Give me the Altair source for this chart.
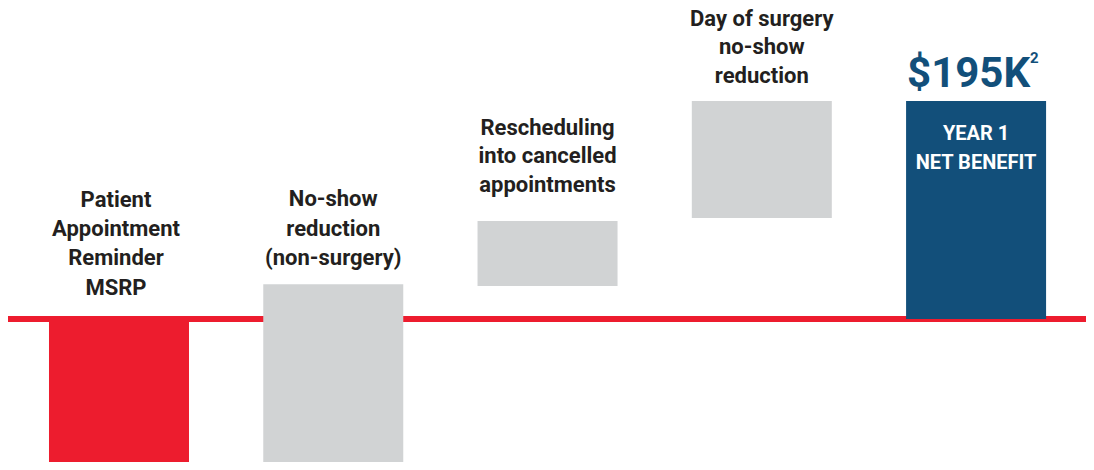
import altair as alt
import pandas as pd

# ---- data (values in $K) ----
categories = ["Patient Appointment Reminder MSRP", "No-show reduction (non-surgery)",
              "Rescheduling into cancelled appointments", "Day of surgery no-show reduction",
              "Year 1 net benefit"]
bar_low = [0, -135, 29.5, 90.3, 0]
bar_high = [-135, 31, 87.7, 195, 195]
kinds = ["cost", "benefit", "benefit", "benefit", "total"]
label_lines = [
    ["Patient", "Appointment", "Reminder", "MSRP"],
    ["No-show", "reduction", "(non-surgery)"],
    ["Rescheduling", "into cancelled", "appointments"],
    ["Day of surgery", "no-show", "reduction"],
]
total_label = "$195K"
total_note = "2"
total_inner = ["YEAR 1", "NET BENEFIT"]

# ---- styles ----
FONT = "Roboto"
RED = "#ed1c2e"
GRAY = "#d1d3d4"
BLUE = "#124f7a"
TXT = "#231f20"
W, H = 1078, 454

df = pd.DataFrame({
    "idx": list(range(len(categories))),
    "category": categories,
    "low": bar_low,
    "high": bar_high,
    "kind": kinds,
})
df["top"] = df[["low", "high"]].max(axis=1)

xs = alt.Scale(domain=[-0.518, 4.513], nice=False, zero=False, padding=0)
ys = alt.Scale(domain=[-127.9, 278.2], nice=False, zero=False, padding=0)
X = alt.X("idx:Q", scale=xs, axis=None)

base = alt.Chart(df)

rule = alt.Chart(pd.DataFrame({"y": [0]})).mark_rule(color=RED, strokeWidth=6).encode(
    y=alt.Y("y:Q", scale=ys, axis=None), x=alt.value(0), x2=alt.value(W)
)

bars = base.mark_bar(size=140, clip=True).encode(
    x=X,
    y=alt.Y("low:Q", scale=ys, axis=None),
    y2="high:Q",
    color=alt.Color("kind:N", scale=alt.Scale(domain=["cost", "benefit", "total"],
                                              range=[RED, GRAY, BLUE]), legend=None),
)

# first-line baseline offsets (px) relative to bar top
dys = [-112, -78, -86, -75]
dxs = [-3, 0, 0, 0]
lh = [29.2, 29.2, 28.4, 28.4]
layers = [rule, bars]
for i, lines in enumerate(label_lines):
    d = df[df.idx == i].copy()
    d["label"] = "\n".join(lines)
    layers.append(
        alt.Chart(d).mark_text(font=FONT, fontWeight="bold", fontSize=22, color=TXT,
                               lineBreak="\n", lineHeight=lh[i], baseline="alphabetic",
                               align="center", dy=dys[i], dx=dxs[i]).encode(
            x=X, y=alt.Y("top:Q", scale=ys), text="label:N")
    )

dt = df[df.idx == 4].copy()
dt["big"] = total_label
dt["note"] = total_note
dt["inner"] = "\n".join(total_inner)
layers.append(alt.Chart(dt).mark_text(font=FONT, fontWeight="bold", fontSize=42, color=BLUE,
                                      align="left", baseline="alphabetic", dx=-69, dy=-14).encode(
    x=X, y=alt.Y("top:Q", scale=ys), text="big:N"))
layers.append(alt.Chart(dt).mark_text(font=FONT, fontWeight="bold", fontSize=15, color=BLUE,
                                      align="left", baseline="alphabetic", dx=54, dy=-38).encode(
    x=X, y=alt.Y("top:Q", scale=ys), text="note:N"))
layers.append(alt.Chart(dt).mark_text(font=FONT, fontWeight="bold", fontSize=20, color="white",
                                      align="center", baseline="alphabetic", lineBreak="\n",
                                      lineHeight=29, dy=39).encode(
    x=X, y=alt.Y("top:Q", scale=ys), text="inner:N"))

chart = alt.layer(*layers).properties(
    width=W, height=H, padding=0, background="white",
    autosize=alt.AutoSizeParams(type="none")
).configure_view(stroke=None)

chart.save("out.html", embed_options={"renderer": "svg", "actions": False})
